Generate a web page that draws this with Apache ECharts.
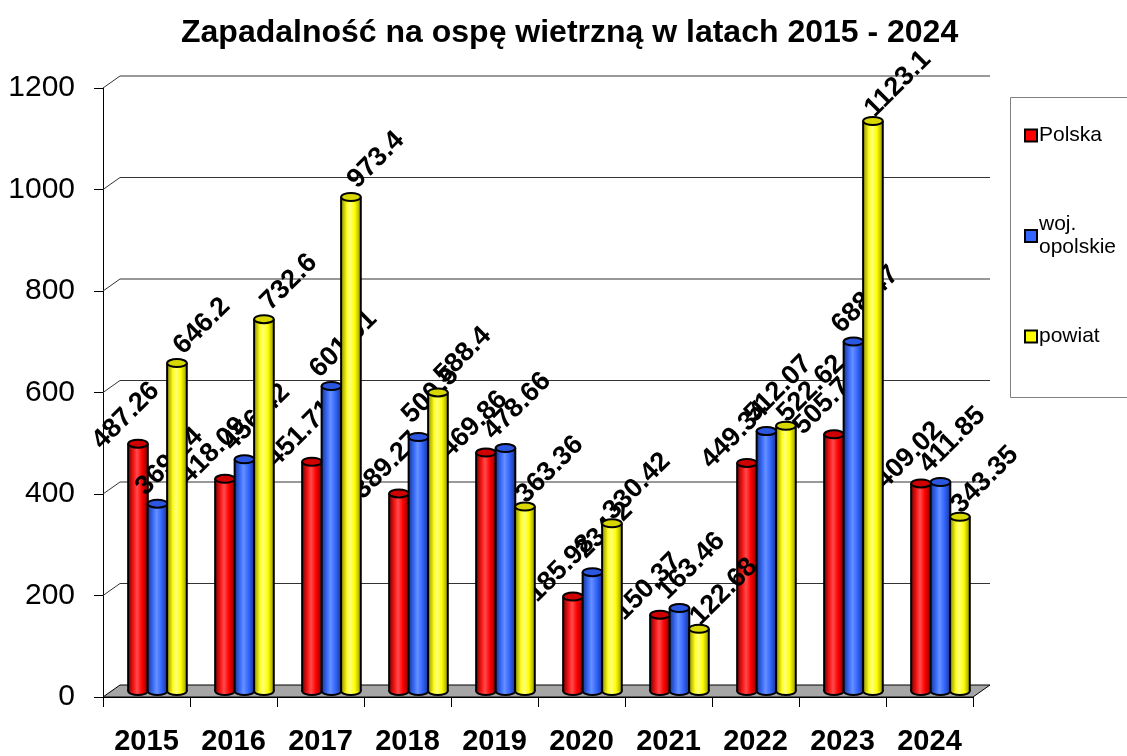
<!DOCTYPE html>
<html lang="pl">
<head>
<meta charset="UTF-8">
<title>Zapadalność na ospę wietrzną</title>
<script src="https://cdn.jsdelivr.net/npm/echarts@6/dist/echarts.min.js"></script>
<style>
  html, body { margin: 0; padding: 0; background: #fff; }
  #chart { width: 1127px; height: 756px; }
</style>
</head>
<body>
<div id="chart"></div>
<script>
// dane z wykresu
const years = ['2015', '2016', '2017', '2018', '2019', '2020', '2021', '2022', '2023', '2024'];
const polska = [487.26, 418.09, 451.71, 389.27, 469.86, 185.98, 150.37, 449.34, 505.7, 409.02];
const wojOpolskie = [369.14, 456.42, 601.01, 500.5, 478.66, 234.2, 163.46, 512.07, 688.47, 411.85];
const powiat = [646.2, 732.6, 973.4, 588.4, 363.36, 330.42, 122.68, 522.62, 1123.1, 343.35];
const yTicks = [200, 400, 600, 800, 1000, 1200];

const FONT = 'Liberation Sans, Arial, sans-serif';
const DX = 17, DY = 12; // glebokosc "3D"

function grad(stops) {
  return new echarts.graphic.LinearGradient(0, 0, 1, 0, stops.map(c => ({ offset: c[0], color: c[1] })));
}

// walec: cialo + denko + wieczko + etykieta
function cylinder(cfg) {
  return function (params, api) {
    const idx = api.value(0), val = api.value(1);
    const band = api.size([1, 0])[0];
    const base = api.coord([idx, 0]);
    const top = api.coord([idx, val]);
    const w = band * 0.226;
    const cx = base[0] + band * cfg.shift;
    const yb = base[1] - DY / 2;
    const yt = top[1] - DY / 2;
    const ry = 4;
    const fill = grad(cfg.stops);
    return {
      type: 'group',
      children: [
        { type: 'ellipse', shape: { cx: cx, cy: yb, rx: w / 2, ry: ry },
          style: { fill: fill, stroke: '#000', lineWidth: 2 } },
        { type: 'rect', shape: { x: cx - w / 2, y: yt, width: w, height: yb - yt },
          style: { fill: fill } },
        { type: 'line', shape: { x1: cx - w / 2, y1: yt, x2: cx - w / 2, y2: yb },
          style: { stroke: '#000', lineWidth: 2 } },
        { type: 'line', shape: { x1: cx + w / 2, y1: yt, x2: cx + w / 2, y2: yb },
          style: { stroke: '#000', lineWidth: 2 } },
        { type: 'ellipse', shape: { cx: cx, cy: yt, rx: w / 2, ry: ry },
          style: { fill: cfg.cap, stroke: '#000', lineWidth: 2 } },
        { type: 'text', x: cx + cfg.lx, y: yt + cfg.ly, rotation: Math.PI / 4, z2: 10,
          style: { text: String(val), font: 'bold 27px ' + FONT, fill: '#000',
                   align: 'center', verticalAlign: 'middle' } }
      ]
    };
  };
}

function seriesData(arr) {
  return arr.map((v, i) => [i, v]);
}

const chart = echarts.init(document.getElementById('chart'));

const option = {
  animation: false,
  title: {
    text: 'Zapadalność na ospę wietrzną w latach 2015 - 2024',
    left: 176,
    top: 12,
    textStyle: { fontFamily: FONT, fontSize: 32, fontWeight: 'bold', color: '#000' }
  },
  legend: {
    data: ['Polska', 'woj.\nopolskie', 'powiat'],
    orient: 'vertical',
    left: 1024,
    top: 124,
    padding: 0,
    itemGap: 66,
    itemWidth: 12,
    itemHeight: 12,
    icon: 'rect',
    itemStyle: { borderColor: '#000', borderWidth: 2 },
    textStyle: { fontFamily: FONT, fontSize: 21, lineHeight: 23, color: '#000', padding: [0, 0, 0, -3] }
  },
  graphic: [
    { type: 'rect', left: 1010, top: 97, z: -1,
      shape: { width: 130, height: 300 },
      style: { fill: '#fff', stroke: '#808080', lineWidth: 1 } }
  ],
  grid: { left: 103, right: 154, top: 88, bottom: 59 },
  xAxis: {
    type: 'category',
    data: years,
    boundaryGap: true,
    axisLine: { lineStyle: { color: '#000', width: 1 } },
    axisTick: { show: true, length: 10, lineStyle: { color: '#000' } },
    axisLabel: { fontFamily: FONT, fontSize: 29, fontWeight: 'bold', color: '#000', margin: 30 }
  },
  yAxis: {
    type: 'value',
    min: 0,
    max: 1200,
    interval: 200,
    axisLine: { show: true, lineStyle: { color: '#000', width: 1 } },
    axisTick: { show: true, length: 9, lineStyle: { color: '#000' } },
    axisLabel: { fontFamily: FONT, fontSize: 30, color: '#000', margin: 28, formatter: v => String(v) },
    splitLine: { show: false }
  },
  series: [
    {
      name: 'grid3d',
      type: 'custom',
      z: 1,
      silent: true,
      data: yTicks.map(v => [0, v]),
      renderItem: function (params, api) {
        const band = api.size([1, 0])[0];
        const p = api.coord([0, api.value(1)]);
        const L = p[0] - band / 2;
        const R = api.coord([years.length - 1, 0])[0] + band / 2;
        return {
          type: 'polyline',
          shape: { points: [[L, p[1]], [L + DX, p[1] - DY], [R + DX, p[1] - DY]] },
          style: { stroke: '#333', lineWidth: 1, fill: null }
        };
      }
    },
    {
      name: 'floor',
      type: 'custom',
      z: 2,
      silent: true,
      data: [[0, 0]],
      renderItem: function (params, api) {
        const band = api.size([1, 0])[0];
        const p = api.coord([0, 0]);
        const L = p[0] - band / 2;
        const R = api.coord([years.length - 1, 0])[0] + band / 2;
        return {
          type: 'polygon',
          shape: { points: [[L, p[1]], [L + DX, p[1] - DY], [R + DX, p[1] - DY], [R, p[1]]] },
          style: { fill: '#A6A6A6', stroke: '#000', lineWidth: 1 }
        };
      }
    },
    {
      name: 'Polska',
      type: 'custom',
      z: 3,
      itemStyle: { color: '#FF0000' },
      data: seriesData(polska),
      renderItem: cylinder({
        shift: -0.098, lx: -12, ly: -28, cap: '#D00000',
        stops: [[0, '#7A0000'], [0.3, '#FF1A1A'], [0.45, '#FF4D4D'], [0.7, '#FF0000'], [1, '#8A0000']]
      })
    },
    {
      name: 'woj.\nopolskie',
      type: 'custom',
      z: 4,
      itemStyle: { color: '#3366FF' },
      data: seriesData(wojOpolskie),
      renderItem: cylinder({
        shift: 0.126, lx: 12, ly: -42, cap: '#2A56E0',
        stops: [[0, '#1A3590'], [0.3, '#3D70FF'], [0.45, '#6690FF'], [0.7, '#3366FF'], [1, '#1A3590']]
      })
    },
    {
      name: 'powiat',
      type: 'custom',
      z: 5,
      itemStyle: { color: '#FFFF00' },
      data: seriesData(powiat),
      renderItem: cylinder({
        shift: 0.35, lx: 25, ly: -37, cap: '#D8D800',
        stops: [[0, '#8F8F00'], [0.3, '#FFFF1A'], [0.45, '#FFFF80'], [0.7, '#FFFF00'], [1, '#999900']]
      })
    }
  ]
};

chart.setOption(option);
window.addEventListener('resize', () => chart.resize());
</script>
</body>
</html>
